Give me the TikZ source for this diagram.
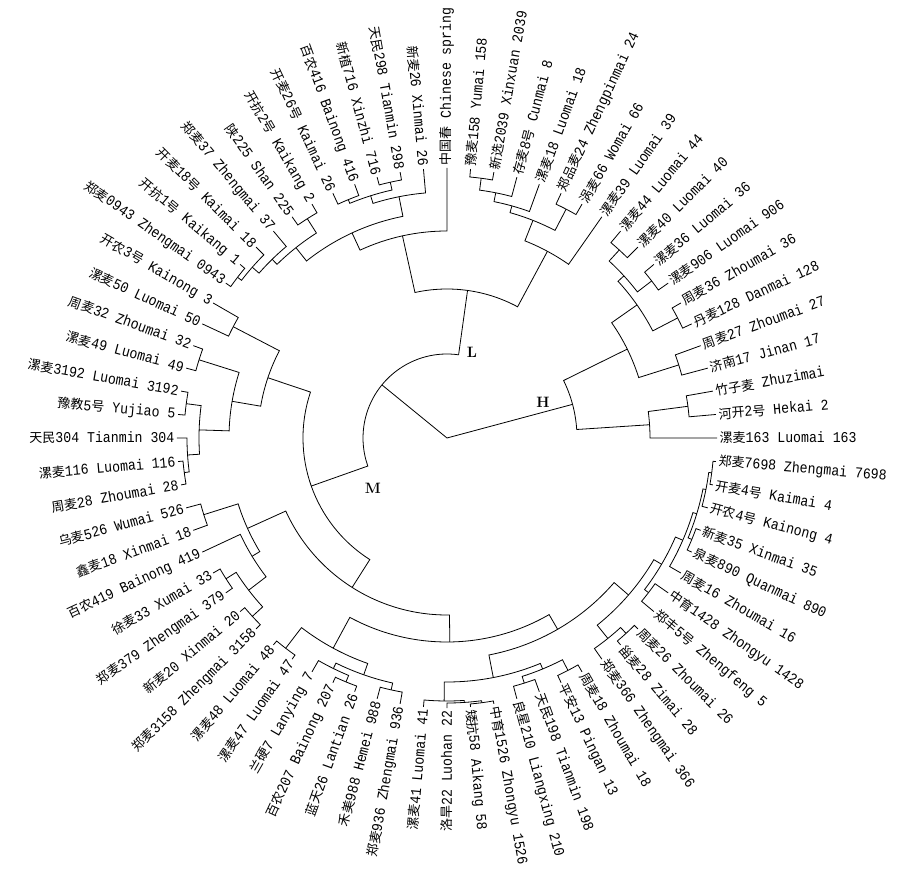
\documentclass[tikz,border=0pt]{standalone}
\usepackage{fontspec}
\newfontfamily\zhfont{Noto Sans CJK SC}
\newfontfamily\latfont[FakeStretch=0.88]{Liberation Mono}
\usepackage{tikz}
\newcommand\zh[1]{{\zhfont\fontsize{13}{13}\selectfont #1}}
% arc of a clade at radius #1 from angle #2 to #3, its two twigs out to #4 and #5
\newcommand\clade[5]{\draw[branch] (#2:#4) -- (#2:#1) arc[start angle=#2, end angle=#3, radius=#1pt] -- (#3:#5);}
\tikzset{
  branch/.style={line width=0.8pt},
  lab/.style={font=\latfont\fontsize{15}{15}\selectfont, inner sep=1.5pt},
  labR/.style={lab, anchor=west, rotate=#1},
  labL/.style={lab, anchor=east, rotate=#1+180},
  grp/.style={font=\bfseries\fontsize{15}{15}\selectfont}
}

\begin{document}
\begin{tikzpicture}[x=1pt,y=1pt]
  \useasboundingbox (-447,-432) rectangle (453,438);
  % root
  \draw[branch] (140.78:84) -- (0,0) -- (15:130);
  \clade{84}{82.07}{199.5}{149}{144}
  % H
  \clade{255}{50}{45}{270}{270}
  \clade{258}{40}{35}{270}{270}
  \clade{240}{47.5}{37.5}{255}{258}
  \clade{260}{30}{25}{270}{270}
  \clade{232}{42.5}{27.5}{240}{260}
  \clade{243}{20}{15}{270}{270}
  \clade{201}{35}{17.5}{232}{243}
  \clade{243}{10}{5}{270}{270}
  \clade{203}{7.5}{0}{243}{270}
  \clade{130}{26.25}{3.75}{201}{203}
  % L
  \clade{262}{100}{105}{270}{270}
  \clade{258}{110}{115}{270}{270}
  \clade{254}{102.5}{112.5}{262}{258}
  \clade{246}{95}{107.5}{270}{254}
  \clade{260}{120}{125}{270}{270}
  \clade{264}{140}{145}{270}{270}
  \clade{259}{135}{142.5}{270}{264}
  \clade{250}{130}{138.75}{270}{259}
  \clade{243}{122.5}{134.375}{260}{250}
  \clade{226}{101.25}{128.4375}{246}{243}
  \clade{207}{90}{114.84}{270}{226}
  \clade{262}{85}{80}{270}{270}
  \clade{250}{82.5}{75}{262}{270}
  \clade{241}{78.75}{70}{250}{270}
  \clade{258}{65}{60}{270}{270}
  \clade{234}{74.375}{62.5}{241}{258}
  \clade{212}{68.44}{55}{234}{270}
  \clade{149}{102.42}{61.72}{207}{212}
  % M, upper part
  \clade{265}{-175}{-170}{270}{270}
  \clade{260}{-180}{-172.5}{270}{265}
  \clade{263}{-190}{-185}{270}{270}
  \clade{248}{-187.5}{-176.25}{263}{260}
  \clade{260}{-200}{-195}{270}{270}
  \clade{218}{-197.5}{-181.875}{260}{248}
  \clade{241}{-210}{-205}{270}{270}
  \clade{189}{-207.5}{-189.69}{241}{218}
  % M, left part
  \clade{255}{-165}{-160}{270}{270}
  \clade{262}{-150}{-145}{270}{270}
  \clade{264}{-140}{-135}{270}{270}
  \clade{250}{-147.5}{-137.5}{262}{264}
  \clade{228}{-155}{-142.5}{270}{250}
  \clade{219}{-162.5}{-148.75}{255}{228}
  % M, lower part
  \clade{265}{-130}{-125}{270}{270}
  \clade{264}{-115}{-110}{270}{270}
  \clade{257}{-120}{-112.5}{270}{264}
  \clade{258}{-105}{-100}{270}{270}
  \clade{251}{-116.25}{-102.5}{257}{258}
  \clade{239}{-127.5}{-109.375}{265}{251}
  \clade{267}{-85}{-80}{270}{270}
  \clade{265}{-90}{-82.5}{270}{267}
  \clade{263}{-95}{-86.25}{270}{265}
  \clade{257}{-75}{-70}{270}{270}
  \clade{262}{-65}{-60}{270}{270}
  \clade{250}{-72.5}{-62.5}{257}{262}
  \clade{244}{-90.625}{-67.5}{263}{250}
  \clade{265}{-50}{-45}{270}{270}
  \clade{257}{-55}{-47.5}{270}{265}
  \clade{254}{-40}{-35}{270}{270}
  \clade{267}{-10}{-5}{270}{270}
  \clade{264}{-15}{-7.5}{270}{267}
  \clade{265}{-25}{-20}{270}{270}
  \clade{261}{-22.5}{-11.25}{265}{264}
  \clade{257}{-30}{-16.875}{270}{261}
  \clade{249}{-37.5}{-23.44}{254}{257}
  \clade{240}{-51.25}{-30.47}{257}{249}
  \clade{221}{-79.06}{-40.86}{244}{240}
  \clade{204}{-118.44}{-59.96}{239}{221}
  \clade{177}{-155.625}{-89.2}{219}{204}
  \clade{144}{-198.59}{-122.41}{189}{177}
  % group letters
  \node[grp] (gL) at (25,86) {L};
  \node[grp] (gH) at (96,36) {H};
  \node[grp] (gM) at (-74,-50) {M};
  % leaves
  \node[labR=90] (v1) at (90:271) {\zh{中国春} Chinese spring};
  \node[labR=85] (v2) at (85:271) {\zh{豫麦}158 Yumai 158};
  \node[labR=80] (v3) at (80:271) {\zh{新选}2039 Xinxuan 2039};
  \node[labR=75] (v4) at (75:271) {\zh{存麦}8\zh{号} Cunmai 8};
  \node[labR=70] (v5) at (70:271) {\zh{漯麦}18 Luomai 18};
  \node[labR=65] (v6) at (65:271) {\zh{郑品麦}24 Zhengpinmai 24};
  \node[labR=60] (v7) at (60:271) {\zh{涡麦}66 Womai 66};
  \node[labR=55] (v8) at (55:271) {\zh{漯麦}39 Luomai 39};
  \node[labR=50] (v9) at (50:271) {\zh{漯麦}44 Luomai 44};
  \node[labR=45] (v10) at (45:271) {\zh{漯麦}40 Luomai 40};
  \node[labR=40] (v11) at (40:271) {\zh{漯麦}36 Luomai 36};
  \node[labR=35] (v12) at (35:271) {\zh{漯麦}906 Luomai 906};
  \node[labR=30] (v13) at (30:271) {\zh{周麦}36 Zhoumai 36};
  \node[labR=25] (v14) at (25:271) {\zh{丹麦}128 Danmai 128};
  \node[labR=20] (v15) at (20:271) {\zh{周麦}27 Zhoumai 27};
  \node[labR=15] (v16) at (15:271) {\zh{济南}17 Jinan 17};
  \node[labR=10] (v17) at (10:271) {\zh{竹子麦} Zhuzimai};
  \node[labR=5] (v18) at (5:271) {\zh{河开}2\zh{号} Hekai 2};
  \node[labR=0] (v19) at (0:271) {\zh{漯麦}163 Luomai 163};
  \node[labR=-5] (v20) at (-5:271) {\zh{郑麦}7698 Zhengmai 7698};
  \node[labR=-10] (v21) at (-10:271) {\zh{开麦}4\zh{号} Kaimai 4};
  \node[labR=-15] (v22) at (-15:271) {\zh{开农}4\zh{号} Kainong 4};
  \node[labR=-20] (v23) at (-20:271) {\zh{新麦}35 Xinmai 35};
  \node[labR=-25] (v24) at (-25:271) {\zh{泉麦}890 Quanmai 890};
  \node[labR=-30] (v25) at (-30:271) {\zh{周麦}16 Zhoumai 16};
  \node[labR=-35] (v26) at (-35:271) {\zh{中育}1428 Zhongyu 1428};
  \node[labR=-40] (v27) at (-40:271) {\zh{郑丰}5\zh{号} Zhengfeng 5};
  \node[labR=-45] (v28) at (-45:271) {\zh{周麦}26 Zhoumai 26};
  \node[labR=-50] (v29) at (-50:271) {\zh{甾麦}28 Zimai 28};
  \node[labR=-55] (v30) at (-55:271) {\zh{郑麦}366 Zhengmai 366};
  \node[labR=-60] (v31) at (-60:271) {\zh{周麦}18 Zhoumai 18};
  \node[labR=-65] (v32) at (-65:271) {\zh{平安}13 Pingan 13};
  \node[labR=-70] (v33) at (-70:271) {\zh{天民}198 Tianmin 198};
  \node[labR=-75] (v34) at (-75:271) {\zh{良星}210 Liangxing 210};
  \node[labR=-80] (v35) at (-80:271) {\zh{中育}1526 Zhongyu 1526};
  \node[labR=-85] (v36) at (-85:271) {\zh{矮抗}58 Aikang 58};
  \node[labL=-90] (v37) at (-90:271) {\zh{洛旱}22 Luohan 22};
  \node[labL=-95] (v38) at (-95:271) {\zh{漯麦}41 Luomai 41};
  \node[labL=-100] (v39) at (-100:271) {\zh{郑麦}936 Zhengmai 936};
  \node[labL=-105] (v40) at (-105:271) {\zh{禾美}988 Hemei 988};
  \node[labL=-110] (v41) at (-110:271) {\zh{蓝天}26 Lantian 26};
  \node[labL=-115] (v42) at (-115:271) {\zh{百农}207 Bainong 207};
  \node[labL=-120] (v43) at (-120:271) {\zh{兰硬}7 Lanying 7};
  \node[labL=-125] (v44) at (-125:271) {\zh{漯麦}47 Luomai 47};
  \node[labL=-130] (v45) at (-130:271) {\zh{漯麦}48 Luomai 48};
  \node[labL=-135] (v46) at (-135:271) {\zh{郑麦}3158 Zhengmai 3158};
  \node[labL=-140] (v47) at (-140:271) {\zh{新麦}20 Xinmai 20};
  \node[labL=-145] (v48) at (-145:271) {\zh{郑麦}379 Zhengmai 379};
  \node[labL=-150] (v49) at (-150:271) {\zh{徐麦}33 Xumai 33};
  \node[labL=-155] (v50) at (-155:271) {\zh{百农}419 Bainong 419};
  \node[labL=-160] (v51) at (-160:271) {\zh{鑫麦}18 Xinmai 18};
  \node[labL=-165] (v52) at (-165:271) {\zh{乌麦}526 Wumai 526};
  \node[labL=-170] (v53) at (-170:271) {\zh{周麦}28 Zhoumai 28};
  \node[labL=-175] (v54) at (-175:271) {\zh{漯麦}116 Luomai 116};
  \node[labL=-180] (v55) at (-180:271) {\zh{天民}304 Tianmin 304};
  \node[labL=-185] (v56) at (-185:271) {\zh{豫教}5\zh{号} Yujiao 5};
  \node[labL=-190] (v57) at (-190:271) {\zh{漯麦}3192 Luomai 3192};
  \node[labL=-195] (v58) at (-195:271) {\zh{漯麦}49 Luomai 49};
  \node[labL=-200] (v59) at (-200:271) {\zh{周麦}32 Zhoumai 32};
  \node[labL=-205] (v60) at (-205:271) {\zh{漯麦}50 Luomai 50};
  \node[labL=-210] (v61) at (-210:271) {\zh{开农}3\zh{号} Kainong 3};
  \node[labL=145] (v62) at (145:271) {\zh{郑麦}0943 Zhengmai 0943};
  \node[labL=140] (v63) at (140:271) {\zh{开抗}1\zh{号} Kaikang 1};
  \node[labL=135] (v64) at (135:271) {\zh{开麦}18\zh{号} Kaimai 18};
  \node[labL=130] (v65) at (130:271) {\zh{郑麦}37 Zhengmai 37};
  \node[labL=125] (v66) at (125:271) {\zh{陕}225 Shan 225};
  \node[labL=120] (v67) at (120:271) {\zh{开抗}2\zh{号} Kaikang 2};
  \node[labL=115] (v68) at (115:271) {\zh{开麦}26\zh{号} Kaimai 26};
  \node[labL=110] (v69) at (110:271) {\zh{百农}416 Bainong 416};
  \node[labL=105] (v70) at (105:271) {\zh{新植}716 Xinzhi 716};
  \node[labL=100] (v71) at (100:271) {\zh{天民}298 Tianmin 298};
  \node[labL=95] (v72) at (95:271) {\zh{新麦}26 Xinmai 26};
\end{tikzpicture}
\end{document}
